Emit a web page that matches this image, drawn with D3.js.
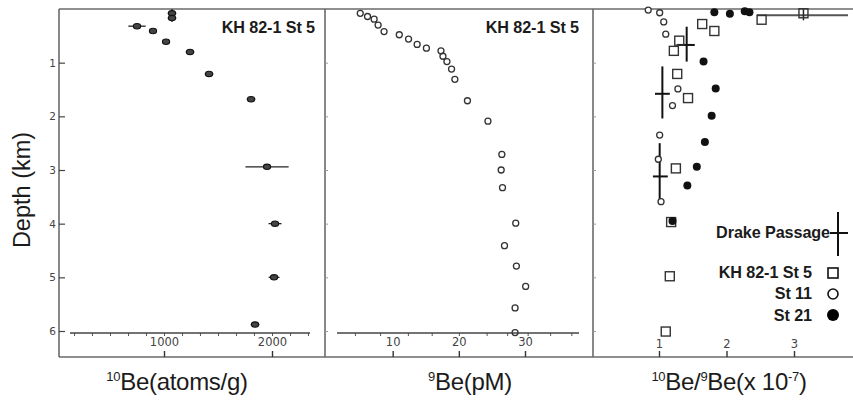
<!DOCTYPE html>
<html><head><meta charset="utf-8">
<script src="https://cdn.jsdelivr.net/npm/d3@7"></script>
<style>
html,body{margin:0;padding:0;background:#fff;}
svg{display:block;}
</style></head>
<body>
<svg id="chart" width="853" height="403"></svg>
<script>
// ---------------- data ----------------
const depthTicks = [1, 2, 3, 4, 5, 6];

// Panel 1: 10Be (atoms/g), KH 82-1 St 5
const be10Values = [1074, 1074, 750, 898, 1019, 1241, 1417, 1806, 1954, 2028, 2019, 1843];
const be10Depths = [0.08, 0.17, 0.32, 0.41, 0.61, 0.80, 1.21, 1.68, 2.94, 4.00, 5.00, 5.88];
const be10Err    = [40, 40, 80, 30, 30, 40, 40, 40, 200, 60, 50, 40];
const be10Ticks  = [1000, 2000];
const be10Minor  = [167, 333, 500, 667, 833, 1000, 1167, 1333, 1500, 1667, 1833, 2000, 2167, 2333];

// Panel 2: 9Be (pM), KH 82-1 St 5
const be9Values = [5.1, 6.2, 7.2, 7.8, 8.7, 11.0, 12.4, 13.7, 15.1, 17.3, 17.6, 18.2, 18.9, 19.4,
                   21.3, 24.4, 26.5, 26.4, 26.6, 28.6, 26.9, 28.7, 30.1, 28.5, 28.5];
const be9Depths = [0.08, 0.14, 0.19, 0.30, 0.42, 0.48, 0.56, 0.66, 0.73, 0.78, 0.88, 0.98, 1.12, 1.31,
                   1.71, 2.09, 2.71, 3.00, 3.33, 3.99, 4.41, 4.79, 5.17, 5.57, 6.03];
const be9Ticks = [10, 20, 30];
const be9Minor = [4.3, 8.1, 12.3, 15.9, 20, 24.2, 27.3, 30.4, 33.8, 37.0];

// Panel 3: 10Be/9Be (x 10^-7)
const ratioTicks = [1, 2, 3];
const st5Ratio  = [3.14, 2.52, 1.64, 1.82, 1.30, 1.22, 1.27, 1.43, 1.25, 1.18, 1.16, 1.10];
const st5Depth  = [0.08, 0.20, 0.28, 0.41, 0.59, 0.78, 1.21, 1.66, 2.97, 3.97, 4.98, 6.01];
const st5ErrLo  = [2.45, null, null, null, null, null, null, null, null, null, null, null];
const st5ErrHi  = [3.80, null, null, null, null, null, null, null, null, null, null, null];
const st11Ratio = [0.84, 1.01, 1.07, 1.10, 1.28, 1.20, 1.01, 0.99, 1.03];
const st11Depth = [0.02, 0.07, 0.24, 0.47, 1.49, 1.80, 2.35, 2.80, 3.59];
const st21Ratio = [1.82, 2.05, 2.27, 2.34, 1.66, 1.84, 1.78, 1.68, 1.56, 1.42, 1.20];
const st21Depth = [0.06, 0.09, 0.04, 0.06, 0.98, 1.48, 1.99, 2.48, 2.94, 3.29, 3.95];
const drakeRatio = [1.41, 1.05, 1.01];
const drakeDepth = [0.67, 1.58, 3.12];
const drakeXLo   = [1.27, 0.94, 0.91];
const drakeXHi   = [1.53, 1.16, 1.13];
const drakeDLo   = [0.33, 1.07, 2.50];
const drakeDHi   = [0.98, 2.04, 3.61];

const legendLabels = ["Drake Passage", "KH 82-1 St 5", "St 11", "St 21"];
const panelTitle = "KH 82-1 St 5";

// ---------------- layout ----------------
const svg = d3.select("#chart");
const W = 853;
const TOP = 9, BOTTOM = 357;
const P1L = 59, P2L = 325, P3L = 593;
const INNER_AXIS_Y = 333;

const y = d3.scaleLinear().domain([0, 6]).range([9, 331]);
const x1 = d3.scaleLinear().domain([0, 2000]).range([56, 272]);
const x2 = d3.scaleLinear().domain([0, 30]).range([326.5, 525]);
const x3 = d3.scaleLinear().domain([0, 3]).range([591.5, 794]);

const ink = "#1b1b1b";
const frame = "#6a6a6a";
const boldFont = "'Liberation Sans', Arial, sans-serif";
const tickFont = "'DejaVu Sans', sans-serif";

// frame lines
const g = svg.append("g");
g.append("line").attr("x1", P1L).attr("x2", W).attr("y1", TOP).attr("y2", TOP)
  .attr("stroke", frame).attr("stroke-width", 1.6);
g.append("line").attr("x1", P1L).attr("x2", W).attr("y1", BOTTOM).attr("y2", BOTTOM)
  .attr("stroke", frame).attr("stroke-width", 1.6);
[P1L, P2L, P3L].forEach(xx => {
  g.append("line").attr("x1", xx).attr("x2", xx).attr("y1", TOP).attr("y2", BOTTOM)
    .attr("stroke", frame).attr("stroke-width", 1.6);
});

// Y axis (depth) on panel 1
const yAxis = d3.axisRight(y).tickValues(depthTicks).tickSize(6).tickPadding(-14).tickFormat(d3.format("d"));
const yG = svg.append("g").attr("transform", `translate(${P1L},0)`).call(yAxis);
yG.select(".domain").remove();
yG.selectAll(".tick line").attr("stroke", "#444").attr("stroke-width", 1.2);
yG.selectAll(".tick text").attr("text-anchor", "end").attr("x", -3)
  .attr("font-family", tickFont).attr("font-size", 10.5).attr("fill", "#444");

// small y ticks on panels 2 and 3
[P2L, P3L].forEach(xx => {
  const a = svg.append("g").attr("transform", `translate(${xx},0)`)
    .call(d3.axisRight(y).tickValues(depthTicks).tickSize(3).tickFormat(""));
  a.select(".domain").remove();
  a.selectAll(".tick line").attr("stroke", "#999").attr("stroke-width", 1);
});

// Helper: bottom axis with ticks up from the frame and labels above
function bottomAxis(scale, ticks) {
  const a = svg.append("g").attr("transform", `translate(0,${BOTTOM})`)
    .call(d3.axisTop(scale).tickValues(ticks).tickSize(6).tickPadding(2).tickFormat(d3.format("d")));
  a.select(".domain").remove();
  a.selectAll(".tick line").attr("stroke", "#333").attr("stroke-width", 1.4);
  a.selectAll(".tick text").attr("font-family", tickFont).attr("font-size", 11.5).attr("fill", "#444");
  return a;
}
// Helper: inner axis line with small minor ticks
function innerAxis(scale, ticks, x0, xEnd) {
  const a = svg.append("g").attr("transform", `translate(0,${INNER_AXIS_Y})`)
    .call(d3.axisBottom(scale).tickValues(ticks).tickSize(3).tickFormat(""));
  a.select(".domain").remove();
  a.selectAll(".tick line").attr("stroke", "#555").attr("stroke-width", 1);
  a.append("line").attr("x1", x0).attr("x2", xEnd).attr("y1", 0).attr("y2", 0)
    .attr("stroke", "#444").attr("stroke-width", 1.3);
}
innerAxis(x1, be10Minor, 70, 310);
innerAxis(x2, be9Minor, 337, 579);
bottomAxis(x1, be10Ticks).selectAll(".tick text").attr("y", -11);
bottomAxis(x2, be9Ticks).selectAll(".tick text").attr("y", -11);
bottomAxis(x3, ratioTicks).selectAll(".tick text").attr("y", -9);

// ---------------- Panel 1 marks ----------------
const p1 = svg.append("g");
be10Values.forEach((v, i) => {
  const cy = y(be10Depths[i]);
  p1.append("line").attr("x1", x1(v - be10Err[i])).attr("x2", x1(v + be10Err[i]))
    .attr("y1", cy).attr("y2", cy).attr("stroke", "#222").attr("stroke-width", 1.3);
});
p1.append("line").attr("x1", x1(be10Values[0])).attr("x2", x1(be10Values[0]))
  .attr("y1", y(0.0)).attr("y2", y(0.24)).attr("stroke", "#222").attr("stroke-width", 1.3);
p1.selectAll("ellipse").data(be10Values).join("ellipse")
  .attr("cx", (d) => x1(d)).attr("cy", (d, i) => y(be10Depths[i]))
  .attr("rx", 3.6).attr("ry", 2.7)
  .attr("fill", "#444").attr("stroke", "#111").attr("stroke-width", 1.1);

// ---------------- Panel 2 marks ----------------
svg.append("g").selectAll("circle").data(be9Values).join("circle")
  .attr("cx", d => x2(d)).attr("cy", (d, i) => y(be9Depths[i]))
  .attr("r", 3).attr("fill", "none").attr("stroke", "#333").attr("stroke-width", 1.3);

// ---------------- Panel 3 marks ----------------
const p3 = svg.append("g");
st5Ratio.forEach((v, i) => {
  if (st5ErrLo[i] == null) return;
  const cy = y(st5Depth[i]) + 2;
  p3.append("line").attr("x1", x3(st5ErrLo[i])).attr("x2", x3(st5ErrHi[i]))
    .attr("y1", cy).attr("y2", cy).attr("stroke", "#555").attr("stroke-width", 2);
  p3.append("line").attr("x1", x3(v)).attr("x2", x3(v))
    .attr("y1", y(st5Depth[i]) - 4).attr("y2", y(st5Depth[i]) + 7).attr("stroke", "#222").attr("stroke-width", 1.5);
});
drakeRatio.forEach((v, i) => {
  p3.append("line").attr("x1", x3(drakeXLo[i])).attr("x2", x3(drakeXHi[i]))
    .attr("y1", y(drakeDepth[i])).attr("y2", y(drakeDepth[i])).attr("stroke", "#111").attr("stroke-width", 2);
  p3.append("line").attr("x1", x3(v)).attr("x2", x3(v))
    .attr("y1", y(drakeDLo[i])).attr("y2", y(drakeDHi[i])).attr("stroke", "#111").attr("stroke-width", 2);
});
p3.selectAll("rect.st5").data(st5Ratio).join("rect").attr("class", "st5")
  .attr("x", d => x3(d) - 4.5).attr("y", (d, i) => y(st5Depth[i]) - 4.5)
  .attr("width", 9).attr("height", 9)
  .attr("fill", "none").attr("stroke", "#333").attr("stroke-width", 1.4);
p3.selectAll("circle.st11").data(st11Ratio).join("circle").attr("class", "st11")
  .attr("cx", d => x3(d)).attr("cy", (d, i) => y(st11Depth[i]))
  .attr("r", 3).attr("fill", "#fff").attr("stroke", "#333").attr("stroke-width", 1.3);
p3.selectAll("circle.st21").data(st21Ratio).join("circle").attr("class", "st21")
  .attr("cx", d => x3(d)).attr("cy", (d, i) => y(st21Depth[i]))
  .attr("r", 4).attr("fill", "#111");

// ---------------- Titles ----------------
function boldText(xx, yy, txt, anchor) {
  return svg.append("text").attr("x", xx).attr("y", yy).attr("text-anchor", anchor || "end")
    .attr("font-family", boldFont).attr("font-weight", "bold").attr("font-size", 16.2)
    .attr("letter-spacing", -0.1).attr("fill", ink).text(txt);
}
boldText(315, 33, panelTitle);
boldText(579, 33, panelTitle);

// Legend
boldText(830, 238, legendLabels[0]);
svg.append("line").attr("x1", 830).attr("x2", 848).attr("y1", 233).attr("y2", 233)
  .attr("stroke", "#111").attr("stroke-width", 2);
svg.append("line").attr("x1", 838).attr("x2", 838).attr("y1", 212).attr("y2", 256)
  .attr("stroke", "#111").attr("stroke-width", 2);
boldText(812, 278, legendLabels[1]);
svg.append("rect").attr("x", 828).attr("y", 268).attr("width", 10).attr("height", 10)
  .attr("fill", "none").attr("stroke", "#111").attr("stroke-width", 1.6);
boldText(812, 299, legendLabels[2]);
svg.append("circle").attr("cx", 833).attr("cy", 294).attr("r", 5)
  .attr("fill", "none").attr("stroke", "#111").attr("stroke-width", 1.6);
boldText(812, 321, legendLabels[3]);
svg.append("circle").attr("cx", 833).attr("cy", 315).attr("r", 6).attr("fill", "#000");

// Axis titles
const titleFont = "'Liberation Sans', Arial, sans-serif";
svg.append("text").attr("transform", "translate(30,190) rotate(-90)")
  .attr("text-anchor", "middle").attr("font-family", titleFont).attr("font-size", 23.5)
  .attr("fill", ink).text("Depth (km)");

function axisTitle(cx, parts) {
  const t = svg.append("text").attr("x", cx).attr("y", 390).attr("text-anchor", "middle")
    .attr("font-family", titleFont).attr("font-size", 24).attr("letter-spacing", -0.3).attr("fill", ink);
  parts.forEach(p => {
    if (p.sup) t.append("tspan").attr("font-size", 13).attr("dy", -9).text(p.t);
    else t.append("tspan").attr("dy", p.back ? 9 : 0).text(p.t);
  });
}
axisTitle(177, [{t: "10", sup: true}, {t: "Be(atoms/g)", back: true}]);
axisTitle(470, [{t: "9", sup: true}, {t: "Be(pM)", back: true}]);
axisTitle(729, [{t: "10", sup: true}, {t: "Be/", back: true}, {t: "9", sup: true}, {t: "Be(x 10", back: true}, {t: "-7", sup: true}, {t: ")", back: true}]);
</script>
</body></html>
